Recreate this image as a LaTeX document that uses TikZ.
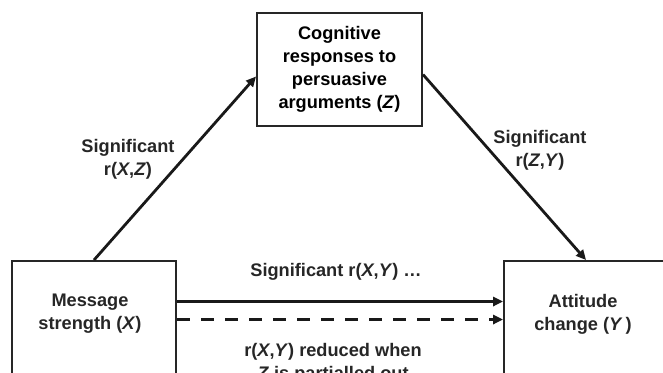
\documentclass[tikz,border=0pt]{standalone}
\usepackage{fontspec}
\setmainfont{Liberation Sans}
\usepackage{tikz}
\usetikzlibrary{arrows.meta,positioning,calc}
\tikzset{
  box/.style={draw=black!85,line width=1pt,minimum width=82pt,inner sep=0pt,
    align=center,font=\fontsize{9.1}{11.4}\selectfont\bfseries},
  tbox/.style={box,minimum width=82.5pt,minimum height=56.5pt},
  sbox/.style={box,minimum height=90pt,anchor=north west},
  txt/.style={inner sep=0pt,align=center,font=\fontsize{9.1}{11.4}\selectfont\bfseries,text=black!85},
  link/.style={-{Triangle[length=5pt,width=4.6pt]},line width=1.4pt,draw=black!90},
  linkd/.style={link,dash pattern=on 6.5pt off 5.5pt},
}
\begin{document}
\begin{tikzpicture}[x=0.5pt,y=-0.5pt]
  \useasboundingbox (0,0) rectangle (663,372);
  \clip (0,0) rectangle (663,372);
  \node[tbox](zbox) at (339.5,69.5){Cognitive\\responses to\\persuasive\\arguments (\textit{Z})};
  \node[sbox](xbox) at (11,260){};
  \node[sbox](ybox) at (503,260){};
  \node[txt](xtext) at (90,313.5){Message\\strength (\textit{X})};
  \node[txt](ytext) at (583,314){Attitude\\change (\textit{Y}\,)};
  % paths through the mediator
  \draw[link](xbox.north)--($(zbox.west)+(0,7)$);
  \draw[link]($(zbox.east)+(0,5)$)--(ybox.north);
  \node[txt](xz) at (128,159){Significant\\r(\textit{X},\textit{Z})};
  \node[txt](zy) at (540,150){Significant\\r(\textit{Z},\textit{Y})};
  % direct path
  \draw[link]($(xbox.north east)+(0,41.5)$)--($(ybox.north west)+(0,41.5)$);
  \draw[linkd]($(xbox.north east)+(0,59.5)$)--($(ybox.north west)+(0,59.5)$);
  \node[txt](xy) at (336,272){Significant r(\textit{X},\textit{Y}) …};
  \node[txt](xyz) at (333,363){r(\textit{X},\textit{Y}) reduced when\\\textit{Z} is partialled out};
\end{tikzpicture}
\end{document}
